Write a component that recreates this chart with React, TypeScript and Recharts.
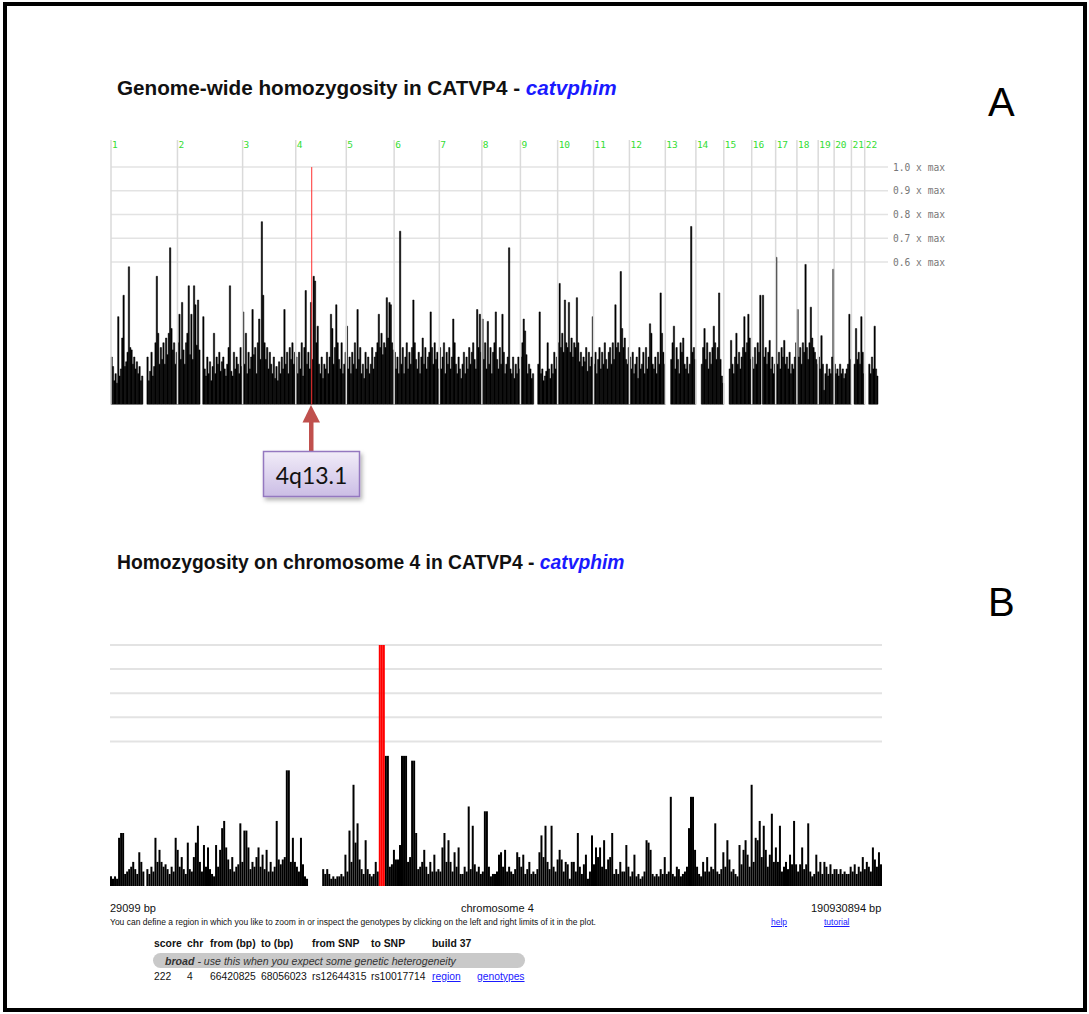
import React from 'react';
import { BarChart, Bar, XAxis, YAxis, CartesianGrid, ReferenceLine } from 'recharts';

// genome-wide scan, one value per ~5 Mb bin, in hundredths of the maximum score
const chromNames = ['1', '2', '3', '4', '5', '6', '7', '8', '9', '10', '11', '12', '13', '14', '15', '16', '17', '18', '19', '20', '21', '22'];
const chr1 = [20, 16, 10, 13, 9, 37, 12, 15, 28, 46, 16, 18, 22, 58, 24, 23, 17, 20, 15, 18, 13, 16, 10, 12, 0, 0, 0, 20, 10, 14, 22, 12, 16, 26, 54, 30, 17, 24, 19, 26, 17, 28, 21, 30, 66, 32, 23, 26, 17, 22];
const chr2 = [26, 38, 19, 43, 23, 17, 26, 30, 50, 21, 38, 19, 50, 42, 25, 44, 23, 0, 0, 37, 15, 12, 20, 13, 18, 10, 16, 30, 13, 20, 17, 22, 14, 18, 20, 15, 12, 17, 24, 50, 14, 12, 22, 15, 20, 17, 13, 24, 16];
const chr3 = [39, 17, 30, 13, 22, 15, 20, 40, 21, 24, 13, 26, 36, 19, 77, 46, 26, 19, 24, 15, 22, 17, 13, 20, 11, 16, 10, 18, 13, 20, 15, 40, 17, 22, 13, 24, 19, 26, 17, 22];
const chr4 = [20, 13, 22, 15, 26, 12, 24, 48, 17, 22, 15, 43, 19, 54, 52, 26, 33, 17, 13, 20, 11, 17, 15, 22, 13, 20, 38, 32, 17, 24, 42, 26, 19, 15, 26, 13, 17, 22];
const chr5 = [33, 15, 20, 13, 22, 17, 26, 15, 40, 19, 24, 13, 17, 11, 22, 15, 20, 13, 17, 24, 15, 20, 22, 26, 38, 24, 30, 21, 26, 24, 45, 28, 43, 42, 26, 23];
const chr6 = [22, 15, 20, 13, 73, 17, 24, 13, 20, 26, 15, 22, 17, 24, 44, 26, 19, 15, 22, 13, 20, 28, 17, 24, 15, 20, 22, 39, 24, 17, 26, 19, 22, 15];
const chr7 = [24, 15, 20, 26, 13, 22, 17, 24, 15, 20, 36, 26, 17, 13, 20, 15, 11, 17, 22, 13, 20, 15, 24, 17, 22, 26, 19, 15, 40, 24, 38, 22];
const chr8 = [36, 19, 26, 15, 35, 17, 24, 13, 22, 26, 39, 19, 15, 24, 17, 38, 22, 13, 17, 20, 66, 15, 13, 20, 11, 17, 13, 20, 15];
const chr9 = [20, 26, 36, 31, 21, 13, 17, 15, 11, 13, 0, 0, 0, 17, 39, 13, 15, 10, 12, 14, 26, 15, 11, 17, 13, 22, 15, 20];
const chr10 = [26, 51, 24, 30, 22, 44, 26, 24, 43, 22, 28, 20, 26, 24, 45, 26, 18, 22, 16, 20, 18, 24, 14, 22, 16, 20, 37];
const chr11 = [17, 22, 13, 19, 24, 15, 22, 17, 26, 19, 15, 22, 24, 17, 26, 19, 42, 24, 26, 22, 56, 32, 24, 28, 19, 17, 24];
const chr12 = [20, 15, 22, 13, 17, 20, 11, 24, 15, 17, 22, 13, 24, 15, 20, 34, 30, 17, 15, 20, 13, 22, 17, 47, 30, 22, 17];
const chr13 = [0, 0, 0, 0, 19, 26, 33, 15, 24, 19, 13, 26, 22, 28, 17, 15, 20, 13, 17, 75, 22, 24, 19];
const chr14 = [0, 0, 0, 0, 17, 24, 32, 19, 26, 15, 22, 17, 24, 33, 26, 19, 24, 47, 19, 12, 9];
const chr15 = [0, 0, 0, 0, 15, 27, 17, 13, 20, 30, 17, 22, 15, 20, 24, 37, 22, 26, 38, 28, 19];
const chr16 = [20, 15, 24, 17, 26, 22, 46, 0, 46, 20, 24, 17, 22, 27, 15, 20, 13, 17];
const chr17 = [62, 17, 22, 15, 24, 20, 27, 17, 20, 15, 22, 13, 17, 15, 20, 26];
const chr18 = [40, 20, 24, 17, 26, 22, 59, 24, 19, 26, 41, 28, 24, 22, 19, 17];
const chr19 = [20, 15, 29, 17, 6, 13, 17, 12, 15, 13, 20, 57];
const chr20 = [17, 13, 15, 12, 17, 13, 15, 11, 13, 15, 17, 38, 19];
const chr21 = [0, 0, 17, 32, 19, 22, 17, 37, 22, 13];
const chr22 = [0, 0, 0, 17, 13, 20, 15, 33, 15, 12];
const genomeBins = [chr1, chr2, chr3, chr4, chr5, chr6, chr7, chr8, chr9, chr10, chr11, chr12, chr13, chr14, chr15, chr16, chr17, chr18, chr19, chr20, chr21, chr22];
const maxLevels = [0.6, 0.7, 0.8, 0.9, 1.0];
const markedBin = '4:12'; // 4q13.1

// chromosome 4 zoom, 0.5 Mb bins
const chr4Detail = [
  4, 3, 4, 3, 20, 22, 22, 5, 6, 7, 8, 10, 7, 5, 14, 10, 6, 0, 7, 5,
  8, 6, 20, 10, 15, 10, 8, 9, 7, 5, 8, 6, 20, 15, 8, 12, 7, 5, 18, 7,
  6, 12, 18, 25, 10, 6, 17, 8, 16, 7, 5, 4, 17, 8, 15, 24, 27, 16, 11, 7,
  12, 6, 8, 9, 26, 10, 23, 23, 16, 7, 10, 8, 12, 16, 8, 13, 7, 15, 6, 10,
  6, 8, 27, 11, 9, 11, 12, 48, 48, 10, 20, 10, 8, 6, 20, 9, 4, 3, 0, 0,
  0, 0, 0, 0, 0, 7, 5, 7, 5, 3, 4, 3, 4, 4, 5, 4, 13, 6, 23, 10,
  42, 18, 26, 11, 7, 5, 19, 7, 5, 4, 5, 10, 6, 0, 0, 0, 54, 54, 8, 9,
  15, 11, 11, 17, 54, 54, 54, 10, 12, 52, 52, 22, 7, 8, 10, 15, 8, 5, 10, 6,
  13, 6, 7, 6, 16, 22, 10, 19, 10, 6, 14, 8, 16, 5, 5, 8, 6, 33, 7, 25,
  9, 6, 8, 5, 6, 31, 31, 8, 4, 5, 5, 6, 13, 14, 8, 15, 6, 8, 6, 5,
  7, 14, 12, 8, 13, 5, 7, 10, 5, 6, 5, 7, 14, 21, 12, 25, 10, 7, 25, 8,
  6, 11, 15, 11, 6, 10, 9, 3, 10, 10, 6, 22, 8, 5, 9, 13, 3, 6, 21, 9,
  16, 12, 16, 8, 19, 7, 11, 12, 22, 5, 7, 5, 10, 6, 6, 17, 8, 4, 6, 13,
  4, 5, 3, 4, 6, 19, 18, 15, 5, 4, 5, 4, 7, 5, 12, 5, 6, 37, 5, 4,
  8, 7, 4, 5, 6, 8, 24, 37, 37, 15, 8, 5, 4, 10, 6, 12, 6, 8, 7, 26,
  6, 5, 7, 14, 8, 19, 11, 6, 7, 5, 4, 17, 9, 15, 19, 13, 8, 42, 10, 20,
  19, 27, 12, 25, 15, 8, 13, 30, 10, 16, 10, 25, 6, 8, 10, 7, 13, 9, 27, 9,
  6, 9, 16, 7, 9, 26, 6, 4, 5, 13, 6, 10, 5, 10, 8, 5, 9, 5, 7, 7,
  5, 7, 5, 6, 5, 5, 8, 6, 9, 5, 8, 6, 12, 7, 10, 8, 6, 16, 11, 8,
  14, 9,
];
const binSize = 500000;
const regionFrom = 66420825;
const regionTo = 68056023;

const summaryHeader = ['score', 'chr', 'from (bp)', 'to (bp)', 'from SNP', 'to SNP', 'build 37'];
const summaryRow = ['222', '4', '66420825', '68056023', 'rs12644315', 'rs10017714'];
const summaryCols = [154, 187, 210, 261, 312, 371, 432];

const genomeRows = genomeBins.flatMap((vals, c) =>
  vals.map((v, i) => ({ key: `${chromNames[c]}:${i}`, v: v / 100 })),
);

const chr4Rows = chr4Detail.map((v, i) => {
  const mid = (i + 0.5) * binSize;
  const inRegion = mid >= regionFrom && mid <= regionTo;
  return { key: String(i), v: inRegion ? 0 : v / 100, hi: inRegion ? 1 : 0 };
});

const sans = "'Liberation Sans', Arial, sans-serif";
const mono = "'DejaVu Sans Mono', 'Liberation Mono', monospace";

const MaxTick = ({ x, y, payload }: any) => (
  <text x={x} y={y} dy={3.5} fill="#777" fontSize={9.6} fontFamily={mono} textAnchor="start">
    {`${Number(payload.value).toFixed(1)} x max`}
  </text>
);

const Txt = ({ x, y, size, children, style }: any) => (
  <div style={{ position: 'absolute', left: x, top: y - size / 2, fontSize: size, lineHeight: `${size}px`, whiteSpace: 'nowrap', ...style }}>
    {children}
  </div>
);

const link = { color: '#1a1aff', textDecoration: 'underline' };

export default function App() {
  return (
    <div style={{ position: 'absolute', left: 0, top: 0, width: 1089, height: 1014, background: '#fff', overflow: 'hidden', fontFamily: sans }}>
      <div style={{ position: 'absolute', left: 3, top: 2, width: 1084, height: 1010, border: '4px solid #000', boxSizing: 'border-box' }} />

      <div style={{ position: 'absolute', left: 117, top: 78, fontSize: 20.7, fontWeight: 'bold', color: '#111', whiteSpace: 'nowrap', lineHeight: '20px' }}>
        Genome-wide homozygosity in CATVP4 - <span style={{ color: '#1a1aff', fontStyle: 'italic' }}>catvphim</span>
      </div>
      <div style={{ position: 'absolute', left: 988, top: 80, fontSize: 40, color: '#000', lineHeight: '44px' }}>A</div>

      <div style={{ position: 'absolute', left: 0, top: 0 }}>
        <BarChart width={956} height={420} data={genomeRows} margin={{ top: 140, right: 2, left: 111, bottom: 15.5 }} barCategoryGap={0} barGap={0}>
          <CartesianGrid vertical={false} stroke="#e3e3e3" strokeWidth={1.5} syncWithTicks />
          <XAxis dataKey="key" hide padding={{ left: 0, right: 10 }} />
          <YAxis orientation="right" domain={[0, 1.114]} ticks={maxLevels} width={66} axisLine={false} tickLine={false} tickSize={3} tickMargin={2} tick={<MaxTick />} allowDataOverflow />
          {chromNames.map((name) => (
            <ReferenceLine
              key={name}
              x={`${name}:0`}
              position="start"
              ifOverflow="visible"
              stroke="#dadada"
              strokeWidth={1.5}
              label={{ value: name, position: 'insideTopLeft', offset: 1, fill: '#33dd33', fontSize: 9.5, fontFamily: mono }}
            />
          ))}
          <Bar dataKey="v" fill="#000" stroke="#000" strokeWidth={0.5} barSize={1.32} isAnimationActive={false} />
          <ReferenceLine segment={[{ x: markedBin, y: 0 }, { x: markedBin, y: 1 }]} position="start" stroke="#ff3030" strokeWidth={1} />
        </BarChart>
      </div>

      <svg style={{ position: 'absolute', left: 250, top: 400 }} width={130} height={110}>
        <defs>
          <linearGradient id="boxGrad" x1="0" y1="0" x2="0" y2="1">
            <stop offset="0%" stopColor="#f1ecf8" />
            <stop offset="100%" stopColor="#cbbde5" />
          </linearGradient>
          <filter id="shadow" x="-10%" y="-10%" width="130%" height="140%">
            <feDropShadow dx="2" dy="3" stdDeviation="2" floodColor="#000" floodOpacity="0.3" />
          </filter>
        </defs>
        <polygon points="52.5,22.5 70,22.5 61,5" fill="#c0504d" />
        <rect x={59} y={22} width={4.5} height={30} fill="#c0504d" />
        <rect x={13.5} y={51.5} width={96} height={45} fill="url(#boxGrad)" stroke="#9478c0" strokeWidth={1.5} filter="url(#shadow)" />
        <text x={61.5} y={84} textAnchor="middle" fontSize={23} fontFamily="Lato, 'Open Sans', sans-serif" fill="#111">4q13.1</text>
      </svg>

      <div style={{ position: 'absolute', left: 117, top: 553, fontSize: 19.3, fontWeight: 'bold', color: '#111', whiteSpace: 'nowrap', lineHeight: '20px' }}>
        Homozygosity on chromosome 4 in CATVP4 - <span style={{ color: '#1a1aff', fontStyle: 'italic' }}>catvphim</span>
      </div>
      <div style={{ position: 'absolute', left: 988, top: 580, fontSize: 40, color: '#000', lineHeight: '44px' }}>B</div>

      <div style={{ position: 'absolute', left: 0, top: 600 }}>
        <BarChart width={900} height={300} data={chr4Rows} margin={{ top: 45, right: 18, left: 110, bottom: 14 }} barCategoryGap={0} barGap={0}>
          <CartesianGrid vertical={false} stroke="#e3e3e3" strokeWidth={2} syncWithTicks />
          <XAxis dataKey="key" hide />
          <YAxis hide domain={[0, 1]} ticks={maxLevels} />
          <Bar dataKey="v" stackId="s" fill="#000" barSize={2} isAnimationActive={false} />
          <Bar dataKey="hi" stackId="s" fill="#ff0000" barSize={2} isAnimationActive={false} />
        </BarChart>
      </div>

      <div style={{ color: '#111' }}>
        <Txt x={110} y={908} size={11}>29099 bp</Txt>
        <Txt x={461} y={908} size={11}>chromosome 4</Txt>
        <Txt x={811} y={908} size={11}>190930894 bp</Txt>
        <Txt x={110} y={922} size={8.5}>You can define a region in which you like to zoom in or inspect the genotypes by clicking on the left and right limits of it in the plot.</Txt>
        <Txt x={771} y={922} size={8.5} style={link}>help</Txt>
        <Txt x={824} y={922} size={8.5} style={link}>tutorial</Txt>
        {summaryHeader.map((h, i) => (
          <Txt key={h} x={summaryCols[i]} y={944} size={10.4} style={{ fontWeight: 'bold' }}>{h}</Txt>
        ))}
        <div style={{ position: 'absolute', left: 153, top: 953, width: 372, height: 15, borderRadius: 8, background: '#c9c9c9' }} />
        <Txt x={165} y={961} size={10.6} style={{ fontStyle: 'italic', color: '#333' }}>
          <b>broad</b> - use this when you expect some genetic heterogeneity
        </Txt>
        {summaryRow.map((t, i) => (
          <Txt key={t} x={summaryCols[i]} y={977} size={10.3}>{t}</Txt>
        ))}
        <Txt x={432} y={977} size={10.3} style={link}>region</Txt>
        <Txt x={477} y={977} size={10.3} style={link}>genotypes</Txt>
      </div>
    </div>
  );
}
